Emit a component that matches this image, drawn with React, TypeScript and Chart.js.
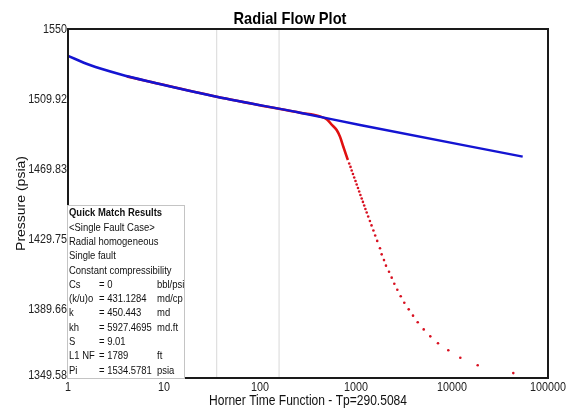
import React, { useEffect, useRef } from "react";
import { Chart, registerables } from "chart.js";

Chart.register(...registerables);

const FONT = "'Liberation Sans', Arial, sans-serif";
const SQUEEZE = 0.86;

// Blue model line (Horner time, pressure psia)
const blueTime = [1, 1.69, 3.48, 7.15, 35.4, 261, 1100, 54500];
const bluePressure = [1534.58, 1529.3, 1524.0, 1519.7, 1511.1, 1501.9, 1494.9, 1476.7];

// Red measured data: dense (solid-looking) part
const redLineTime = [4.1, 7.15, 35.4, 261, 422, 499, 562, 629, 681, 738, 800, 823.5];
const redLinePressure = [1522.8, 1519.7, 1511.1, 1501.9, 1499.8, 1498.0, 1494.9, 1492.0, 1488.2, 1482.4, 1476.7, 1474.8];

// Red measured data: separate dots
const redDotTime = [
  849.6, 876.5, 902.0, 929.4, 957.9, 988.1, 1016.9, 1049.0, 1079.7, 1111.3, 1146.6, 1180.1,
  1217.4, 1253.0, 1292.9, 1340.1, 1395.6, 1451, 1518.5, 1584.9, 1663.0, 1778.3, 1852, 1957,
  2053, 2207, 2354, 2506, 2693, 2922, 3185, 3540, 3925, 4393, 5074, 5943, 7148, 9152,
  12206, 18522, 43508,
];
const redDotPressure = [
  1472.8, 1470.8, 1468.7, 1466.7, 1464.7, 1462.7, 1460.7, 1458.7, 1456.7, 1454.7, 1452.7, 1450.7,
  1448.6, 1446.6, 1444.6, 1442.3, 1439.7, 1437.2, 1434.3, 1431.4, 1428.3, 1424.1, 1420.6, 1417.3,
  1414.1, 1410.6, 1407.2, 1403.7, 1400.3, 1396.5, 1392.8, 1389.0, 1385.4, 1381.6, 1377.5, 1373.5, 1369.5, 1365.5,
  1361.2, 1356.9, 1352.4,
];

// Vertical marker lines (Horner time)
const markerTimes = [35.4, 158];

// Axes
const yMin = 1349.58;
const yMax = 1550;
const yTicks = [1349.58, 1389.66, 1429.75, 1469.83, 1509.92, 1550];
const yTickLabels = ["1349.58", "1389.66", "1429.75", "1469.83", "1509.92", "1550"];
const xTicks = [1, 10, 100, 1000, 10000, 100000];
const xTickLabels = ["1", "10", "100", "1000", "10000", "100000"];

const chartTitle = "Radial Flow Plot";
const xTitle = "Horner Time Function - Tp=290.5084";
const yTitle = "Pressure (psia)";

// Quick match box text
const boxTitle = "Quick Match Results";
const boxLines = ["<Single Fault Case>", "Radial homogeneous", "Single fault", "Constant compressibility"];
const paramNames = ["Cs", "(k/u)o", "k", "kh", "S", "L1 NF", "Pi"];
const paramValues = ["= 0", "= 431.1284", "= 450.443", "= 5927.4695", "= 9.01", "= 1789", "= 1534.5781"];
const paramUnits = ["bbl/psi", "md/cp", "md", "md.ft", "", "ft", "psia"];

function text(ctx: CanvasRenderingContext2D, s: string, x: number, y: number, align: CanvasTextAlign, font: string, rot = 0) {
  ctx.save();
  ctx.translate(x, y);
  ctx.scale(SQUEEZE, 1);
  if (rot) ctx.rotate(rot);
  ctx.font = font;
  ctx.textAlign = align;
  ctx.textBaseline = "middle";
  ctx.fillText(s, 0, 0);
  ctx.restore();
}

const framePlugin = {
  id: "frame",
  afterDatasetsDraw(chart: any) {
    const { ctx, chartArea } = chart;
    ctx.save();
    ctx.strokeStyle = "#1a1a1a";
    ctx.lineWidth = 2;
    ctx.strokeRect(chartArea.left, chartArea.top, chartArea.right - chartArea.left, chartArea.bottom - chartArea.top);
    ctx.restore();
  },
};

const labelsPlugin = {
  id: "labels",
  afterDraw(chart: any) {
    const { ctx, chartArea, scales } = chart;
    ctx.save();
    ctx.fillStyle = "#000";
    text(ctx, chartTitle, 290, 19, "center", `bold 17px ${FONT}`);
    ctx.fillStyle = "#222";
    yTicks.forEach((v, i) => {
      const y = Math.min(scales.y.getPixelForValue(v) + 1, chartArea.bottom - 2);
      text(ctx, yTickLabels[i], chartArea.left - 1, y, "right", `12.5px ${FONT}`);
    });
    xTicks.forEach((v, i) => {
      text(ctx, xTickLabels[i], scales.x.getPixelForValue(v), chartArea.bottom + 9.5, "center", `12.5px ${FONT}`);
    });
    ctx.fillStyle = "#111";
    text(ctx, xTitle, (chartArea.left + chartArea.right) / 2, chartArea.bottom + 23, "center", `14px ${FONT}`);
    text(ctx, yTitle, 22, (chartArea.top + chartArea.bottom) / 2, "center", `14px ${FONT}`, -Math.PI / 2);
    ctx.restore();
  },
};

const boxPlugin = {
  id: "quickMatchBox",
  afterDraw(chart: any) {
    const { ctx, chartArea } = chart;
    const left = chartArea.left - 0.5;
    const right = chartArea.left + 116.5;
    const top = chartArea.top + 176.5;
    const bottom = chartArea.bottom + 0.5;
    ctx.save();
    ctx.fillStyle = "#ffffff";
    ctx.fillRect(left, top, right - left, bottom - top);
    ctx.strokeStyle = "#c4c4c4";
    ctx.lineWidth = 1;
    ctx.strokeRect(left, top, right - left, bottom - top);
    ctx.fillStyle = "#111";
    const x0 = chartArea.left + 1;
    const x1 = chartArea.left + 31;
    const x2 = chartArea.left + 89;
    const step = 14.3;
    let y = top + 7.8;
    text(ctx, boxTitle, x0, y, "left", `bold 11px ${FONT}`);
    for (const line of boxLines) {
      y += step;
      text(ctx, line, x0, y, "left", `11px ${FONT}`);
    }
    for (let i = 0; i < paramNames.length; i++) {
      y += step;
      text(ctx, paramNames[i], x0, y, "left", `11px ${FONT}`);
      text(ctx, paramValues[i], x1, y, "left", `11px ${FONT}`);
      if (paramUnits[i]) text(ctx, paramUnits[i], x2, y, "left", `11px ${FONT}`);
    }
    ctx.restore();
  },
};

export default function App() {
  const ref = useRef<HTMLCanvasElement | null>(null);
  useEffect(() => {
    document.body.style.margin = "0";
    const canvas = ref.current;
    if (!canvas) return;
    const markerDatasets = markerTimes.map((t) => ({
      type: "line" as const,
      data: [
        { x: t, y: yMin },
        { x: t, y: yMax },
      ],
      borderColor: "#d9d9d9",
      borderWidth: 1,
      pointRadius: 0,
      order: 4,
    }));
    const chart = new Chart(canvas, {
      type: "line",
      data: {
        datasets: [
          {
            data: blueTime.map((t, i) => ({ x: t, y: bluePressure[i] })),
            borderColor: "#1414d2",
            borderWidth: 2.5,
            pointRadius: 0,
            cubicInterpolationMode: "monotone",
            order: 0,
          },
          {
            data: redLineTime.map((t, i) => ({ x: t, y: redLinePressure[i] })),
            borderColor: "#e01010",
            borderWidth: 2.6,
            pointRadius: 0,
            cubicInterpolationMode: "monotone",
            order: 1,
          },
          {
            data: redDotTime.map((t, i) => ({ x: t, y: redDotPressure[i] })),
            showLine: false,
            pointRadius: 1.3,
            pointBorderWidth: 0,
            pointBackgroundColor: "#d81020",
            borderColor: "#d81020",
            order: 2,
          },
          ...markerDatasets,
        ] as any,
      },
      options: {
        animation: false,
        responsive: false,
        devicePixelRatio: 1,
        layout: { padding: { top: 29, right: 31, left: 0, bottom: 0 } },
        plugins: {
          legend: { display: false },
          tooltip: { enabled: false },
          title: { display: false },
        },
        scales: {
          x: {
            type: "logarithmic",
            min: 1,
            max: 100000,
            grid: { display: false, drawTicks: false },
            border: { display: true, color: "#1a1a1a", width: 2 },
            afterBuildTicks: (scale: any) => {
              scale.ticks = xTicks.map((v) => ({ value: v }));
            },
            afterFit: (scale: any) => {
              scale.height = 32;
            },
            ticks: { display: false },
          },
          y: {
            type: "linear",
            min: yMin,
            max: yMax,
            grid: { display: false, drawTicks: false },
            border: { display: true, color: "#1a1a1a", width: 2 },
            afterBuildTicks: (scale: any) => {
              scale.ticks = yTicks.map((v) => ({ value: v }));
            },
            afterFit: (scale: any) => {
              scale.width = 68;
            },
            ticks: { display: false },
          },
        },
      } as any,
      plugins: [framePlugin, labelsPlugin, boxPlugin],
    });
    return () => chart.destroy();
  }, []);
  return (
    <div style={{ width: 579, height: 410 }}>
      <canvas ref={ref} width={579} height={410} />
    </div>
  );
}
